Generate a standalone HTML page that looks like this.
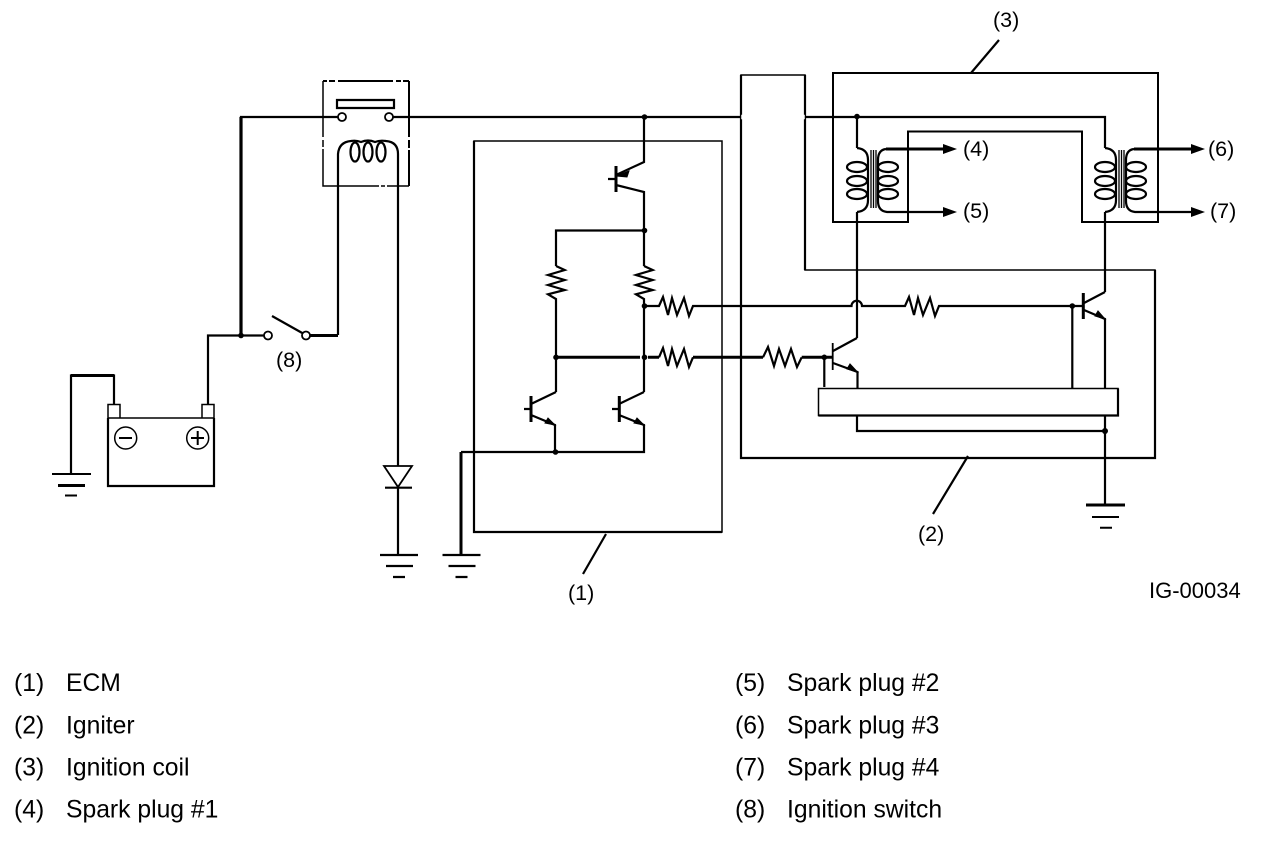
<!DOCTYPE html>
<html><head><meta charset="utf-8"><style>
html,body{margin:0;padding:0;background:#fff}
svg{display:block}
text{font-family:"Liberation Sans",sans-serif;fill:#000;stroke:none}
.d{font-size:21.5px}
.l{font-size:24.7px}
</style></head><body>
<svg width="1264" height="842" viewBox="0 0 1264 842" xmlns="http://www.w3.org/2000/svg">
<defs>
<g id="coil" fill="none" stroke="#000" stroke-width="2.200">
<path d="M857,148 Q868,149 868,160 V200 Q868,211 857,212"/>
<ellipse cx="857" cy="167" rx="10" ry="5"/><ellipse cx="857" cy="181" rx="10" ry="5"/><ellipse cx="857" cy="194" rx="10" ry="5"/>
<path d="M871,150V208M873.500,150V208M876,150V208" stroke-width="1.300"/>
<ellipse cx="888" cy="167" rx="10" ry="5"/><ellipse cx="888" cy="181" rx="10" ry="5"/><ellipse cx="888" cy="194" rx="10" ry="5"/>
<path d="M886,149 Q878,150 878,160 V201 Q878,211 887,212 H945" />
<path d="M886,149 H945" stroke-width="3"/>
<path d="M943,144 L957,149 L943,154Z" fill="#000" stroke="none"/>
<path d="M943,207 L957,212 L943,217Z" fill="#000" stroke="none"/>
</g>
<g id="gnd" stroke="#000" stroke-width="2.200">
<path d="M-19,0H19M-13,11H14M-6,22H6"/>
</g>
</defs>

<!-- ECM box -->
<path d="M474,141H722V532H474Z" fill="none" stroke="#000" stroke-width="1.500"/>
<path d="M474,141V532H722" fill="none" stroke="#000" stroke-width="2.200"/>

<!-- main wire -->
<path d="M342,117H241V335" fill="none" stroke="#000" stroke-width="2.200"/>
<path d="M241,117V335" stroke="#000" stroke-width="3.200"/>
<path d="M393,117H1105V148" fill="none" stroke="#000" stroke-width="2.200"/>
<path d="M857,117V148" stroke="#000" stroke-width="2.200"/>
<path d="M857,212V338M1105,212V292" stroke="#000" stroke-width="2.200"/>

<!-- relay box -->
<g fill="none" stroke="#000" stroke-width="1.500">
<path d="M323,81H327M329,81H335M338,81H393M396,81H401M403,81H409" stroke-width="2"/>
<path d="M323,81V137M323,140V147M323,149V186H379M381,186H385M387,186H409"/>
<path d="M409,186V150M409,148V140M409,137V81" stroke-width="2"/>
<path d="M337,100H394V108H337Z" stroke-width="2.200"/>
</g>
<circle cx="342" cy="117" r="4" fill="#fff" stroke="#000" stroke-width="1.800"/>
<circle cx="389" cy="117" r="4" fill="#fff" stroke="#000" stroke-width="1.800"/>
<g fill="none" stroke="#000" stroke-width="2.200">
<path d="M338,335V154Q339,142 351,141Q356,140 361,142Q368,139 375,142Q380,140 386,141Q398,142 398,154V466"/>
<ellipse cx="355" cy="152" rx="4.500" ry="9.500"/><ellipse cx="368" cy="152" rx="4.500" ry="9.500"/><ellipse cx="381" cy="152" rx="4.500" ry="9.500"/>
</g>

<!-- switch -->
<path d="M208,404V335.500H264" fill="none" stroke="#000" stroke-width="2.200"/>
<circle cx="241" cy="335.500" r="2.800"/>
<circle cx="268" cy="335.500" r="4" fill="#fff" stroke="#000" stroke-width="1.800"/>
<path d="M272,316L304,334" stroke="#000" stroke-width="2.200"/>
<circle cx="306" cy="335.500" r="4" fill="#fff" stroke="#000" stroke-width="1.800"/>
<path d="M310,335.500H338" stroke="#000" stroke-width="3"/>

<!-- battery -->
<g fill="none" stroke="#000" stroke-width="1.500">
<path d="M108,418H214" />
<path d="M108,418V486H214V418" stroke-width="2.200"/>
<path d="M108,418V404.500H120V418M202,418V404.500H214V418"/>
<circle cx="125.700" cy="438" r="11"/><circle cx="197.700" cy="438" r="11"/>
<path d="M119,438H132M191,438H204M197.700,431V445" stroke-width="2"/>
</g>
<path d="M114,404V375.500H71V474" fill="none" stroke="#000" stroke-width="2.200"/>
<path d="M71,375.500H114" stroke="#000" stroke-width="3"/>
<g stroke="#000" stroke-width="2"><path d="M52,474H91M65,495.500H77"/><path d="M58,485.500H85" stroke-width="3"/></g>

<!-- diode -->
<path d="M384,466H412L398,487Z" fill="#fff" stroke="#000" stroke-width="1.800"/>
<path d="M385,487.700H412M398,487V555" stroke="#000" stroke-width="2.200"/>
<use href="#gnd" x="399" y="555"/>

<!-- ECM internals -->
<g fill="none" stroke="#000" stroke-width="2.200">
<path d="M644,117V162L616,175M608,179H616M616,185L644,192V266"/>
<path d="M644,230.500H556V266"/>
<path d="M644,266L652.700,270L636,275L652.700,280L636,285L652.700,290L636,294.300L644,299V392"/>
<path d="M556,266L564.700,270L548,275L564.700,280L548,285L564.700,290L548,294.300L556,299V392"/>
<path d="M556,392L531,404M524,409H531M531,415L555,425V452"/>
<path d="M644,392L619,404M612,409H619M619,415L644,425V452H461"/>
<path d="M644,306H659L663,297L668,315L672,298L677,315L684,298L689,316L693,306H851.500A5,5 0 0 1 862,306H905L909,297L914,315L918,298L923,315L930,298L935,316L939,306H1083"/>
<path d="M659,357.300L663,348L668,366L672,349L677,366L684,349L689,367L693,357.300"/>
<path d="M763,357.300L768,347L774,366L779,349L785,366L791,349L797,367L801.700,357.300"/>
</g>
<path d="M616,166V192M531,396V422M619.300,396V422" stroke="#000" stroke-width="3"/>
<path d="M556,357.300H640M648,357.300H659M693,357.300H763M801.700,357.300H833" stroke="#000" stroke-width="3" fill="none"/>
<path d="M461,452V555" stroke="#000" stroke-width="3"/>
<path d="M616,176L629,171L627,177Z" stroke="#000" fill="#000"/>
<path d="M555,425L545,423L548,418Z" stroke="#000" fill="#000"/>
<path d="M644,425L634,423L637,418Z" stroke="#000" fill="#000"/>
<use href="#gnd" x="461.500" y="555"/>
<circle cx="644.500" cy="117" r="2.800"/><circle cx="644.500" cy="230.500" r="2.800"/><circle cx="644.500" cy="306" r="2.800"/>
<circle cx="556" cy="357.300" r="2.800"/><circle cx="644.500" cy="357.300" r="2.800"/><circle cx="555.500" cy="452" r="2.800"/>

<!-- igniter box -->
<path d="M741,75H805V270H1155V458H741Z" fill="none" stroke="#000" stroke-width="1.500"/>
<path d="M741,75V458H1155V270M805,75V270" fill="none" stroke="#000" stroke-width="2.200"/>
<path d="M742.500,116H803.500V118H742.500Z" fill="#fff" stroke="#fff" stroke-width="2.500"/>

<!-- coil box -->
<path d="M833,73H1158V222H1082V131.500H908V222H833Z" fill="none" stroke="#000" stroke-width="2"/>
<use href="#coil"/>
<use href="#coil" x="248"/>
<circle cx="857" cy="116.500" r="2.800"/>

<!-- igniter transistors -->
<g fill="none" stroke="#000" stroke-width="2.200">
<path d="M857,338L833,351M833,363L857.500,372V388"/>
<path d="M1105,292L1084,303M1084,310L1105,319V388"/>
<path d="M824.300,357.300V387M1072.300,306V388"/>
<path d="M857,416V431H1105M1105,416V505" />
</g>
<path d="M832.700,343V370" stroke="#000" stroke-width="1.800"/>
<path d="M1083.300,293V319" stroke="#000" stroke-width="3"/>
<path d="M857.500,372L847,369L850,364Z" stroke="#000" fill="#000"/>
<path d="M1105,319L1095,316L1098,311Z" stroke="#000" fill="#000"/>
<circle cx="824.300" cy="357.300" r="2.800"/><circle cx="1072.300" cy="306" r="2.800"/><circle cx="1105" cy="431" r="3"/>
<path d="M818.500,388.500H1118V415.500H818.500Z" fill="#fff" stroke="#000" stroke-width="1.500"/>
<path d="M818.500,415.500H1118V388.500" fill="none" stroke="#000" stroke-width="2.200"/>
<g stroke="#000" stroke-width="2"><path d="M1086,505H1125" stroke-width="3"/><path d="M1092,517H1119M1100,527.700H1112"/></g>

<!-- leaders -->
<g stroke="#000" stroke-width="2.200">
<path d="M606,534L583,574M968,456L933,514M971,73L999,40"/>
</g>

<!-- labels -->
<text class="d" x="568" y="600">(1)</text>
<text class="d" x="918" y="541">(2)</text>
<text class="d" x="993" y="27">(3)</text>
<text class="d" x="963" y="156">(4)</text>
<text class="d" x="963" y="218">(5)</text>
<text class="d" x="1208" y="156">(6)</text>
<text class="d" x="1210" y="218">(7)</text>
<text class="d" x="276" y="367">(8)</text>
<text x="1149" y="598" style="font-size:22px">IG-00034</text>

<text class="l" x="14" y="691">(1)</text><text class="l" x="66" y="691">ECM</text>
<text class="l" x="14" y="733.500">(2)</text><text class="l" x="66" y="733.500">Igniter</text>
<text class="l" x="14" y="775.500">(3)</text><text class="l" x="66" y="775.500">Ignition coil</text>
<text class="l" x="14" y="817.500">(4)</text><text class="l" x="66" y="817.500">Spark plug #1</text>
<text class="l" x="735" y="691">(5)</text><text class="l" x="787" y="691">Spark plug #2</text>
<text class="l" x="735" y="733.500">(6)</text><text class="l" x="787" y="733.500">Spark plug #3</text>
<text class="l" x="735" y="775.500">(7)</text><text class="l" x="787" y="775.500">Spark plug #4</text>
<text class="l" x="735" y="817.500">(8)</text><text class="l" x="787" y="817.500">Ignition switch</text>
</svg>
</body></html>
